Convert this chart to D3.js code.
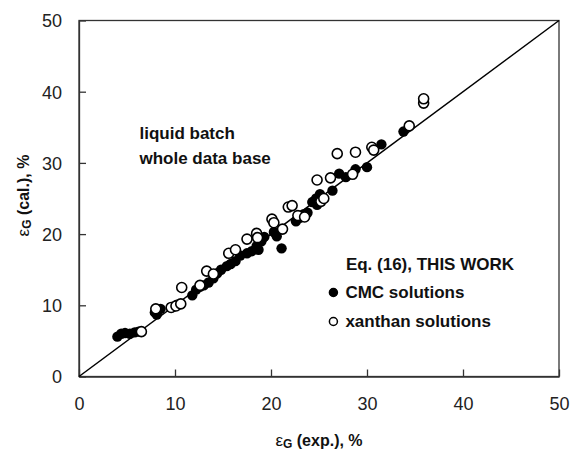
<!DOCTYPE html>
<html>
<head>
<meta charset="utf-8">
<script src="https://cdn.jsdelivr.net/npm/d3@7"></script>
<style>
  body { margin: 0; background: #fff; }
  svg { font-family: Arial, 'Liberation Sans', sans-serif; }
</style>
</head>
<body>
<div id="wrapper"></div>
<script>
// CMC solutions (filled markers): [exp, cal]
const cmcData = [
  [4.0, 5.6], [4.4, 6.0], [4.8, 6.1], [5.3, 6.0], [5.8, 6.2], [6.2, 6.3],
  [7.9, 9.0], [8.2, 9.3], [8.5, 9.5], [8.1, 8.7],
  [9.8, 9.8], [10.2, 10.1],
  [11.8, 11.4], [12.2, 12.2], [12.6, 12.6], [13.0, 12.8], [13.5, 13.2],
  [14.0, 13.8], [14.4, 14.5], [14.8, 15.0], [15.4, 15.5], [15.8, 15.8],
  [16.3, 16.2], [16.8, 17.0], [17.5, 17.3], [18.0, 17.6], [18.5, 18.3],
  [19.0, 19.0], [19.3, 19.6], [18.7, 17.8], [20.3, 20.3], [20.6, 19.7],
  [21.1, 18.0], [22.6, 21.8], [23.0, 22.3], [23.4, 22.8], [23.8, 23.0],
  [24.3, 24.5], [24.7, 25.0], [25.1, 25.6], [24.8, 24.1], [26.4, 26.1],
  [27.1, 28.5], [27.8, 28.0], [28.8, 29.1], [30.0, 29.4], [31.5, 32.6],
  [33.8, 34.4]
]

// xanthan solutions (open markers): [exp, cal]
const xanthanData = [
  [6.5, 6.3], [8.0, 9.5], [9.6, 9.7], [10.1, 9.9], [10.6, 10.2], [10.7, 12.5],
  [12.6, 12.8], [13.3, 14.8], [14.0, 14.4], [15.6, 17.3], [16.3, 17.8],
  [17.5, 19.3], [18.5, 20.1], [18.6, 19.5], [20.1, 22.1], [20.3, 21.6],
  [21.2, 20.7], [21.8, 23.8], [22.2, 24.0], [22.8, 22.6], [23.5, 22.4],
  [24.8, 27.6], [25.2, 24.6], [25.5, 25.0], [26.2, 27.9], [26.9, 31.3],
  [28.5, 28.4], [28.8, 31.5], [30.5, 32.2], [30.7, 31.8], [34.4, 35.2],
  [35.9, 38.4], [35.9, 39.0]
]

const xTicks = [0, 10, 20, 30, 40, 50]
const yTicks = [0, 10, 20, 30, 40, 50]
const legendLabels = ['CMC solutions', 'xanthan solutions']
const noteLines = ['liquid batch', 'whole data base']

const dimensions = {
  width: 570,
  height: 451,
  margin: { top: 20.5, right: 11, bottom: 74.5, left: 79 },
}
dimensions.boundedWidth =
  dimensions.width - dimensions.margin.left - dimensions.margin.right
dimensions.boundedHeight =
  dimensions.height - dimensions.margin.top - dimensions.margin.bottom

const wrapper = d3
  .select('#wrapper')
  .append('svg')
  .attr('width', dimensions.width)
  .attr('height', dimensions.height)

const bounds = wrapper
  .append('g')
  .attr('transform', `translate(${dimensions.margin.left},${dimensions.margin.top})`)

const xScale = d3.scaleLinear().domain([0, 50]).range([0, dimensions.boundedWidth])
const yScale = d3.scaleLinear().domain([0, 50]).range([dimensions.boundedHeight, 0])

// frame
bounds
  .append('rect')
  .attr('width', dimensions.boundedWidth)
  .attr('height', dimensions.boundedHeight)
  .attr('fill', 'none')
  .attr('stroke', '#333')
  .attr('stroke-width', 1.3)

// axes with inward ticks
const xAxis = bounds
  .append('g')
  .attr('transform', `translate(0,${dimensions.boundedHeight})`)
  .call(d3.axisBottom(xScale).tickValues(xTicks).tickSizeInner(-7).tickSizeOuter(0).tickPadding(21))
const yAxis = bounds
  .append('g')
  .call(d3.axisLeft(yScale).tickValues(yTicks).tickSizeInner(-7).tickSizeOuter(0).tickPadding(17))

;[xAxis, yAxis].forEach((ax) => {
  ax.select('.domain').attr('stroke', '#333').attr('stroke-width', 1.3)
  ax.selectAll('.tick line').attr('stroke', '#333').attr('stroke-width', 1.3)
  ax.selectAll('.tick text')
    .attr('font-size', 18)
    .attr('font-family', 'Arial, Liberation Sans, sans-serif')
    .attr('fill', '#222')
})
yAxis.selectAll('.tick text').attr('dy', '0.35em')

// parity line
bounds
  .append('line')
  .attr('x1', xScale(0))
  .attr('y1', yScale(0))
  .attr('x2', xScale(50))
  .attr('y2', yScale(50))
  .attr('stroke', '#000')
  .attr('stroke-width', 1.5)

// points
bounds
  .append('g')
  .selectAll('circle')
  .data(cmcData)
  .enter()
  .append('circle')
  .attr('cx', (d) => xScale(d[0]))
  .attr('cy', (d) => yScale(d[1]))
  .attr('r', 5.2)
  .attr('fill', '#000')

bounds
  .append('g')
  .selectAll('circle')
  .data(xanthanData)
  .enter()
  .append('circle')
  .attr('cx', (d) => xScale(d[0]))
  .attr('cy', (d) => yScale(d[1]))
  .attr('r', 5)
  .attr('fill', '#fff')
  .attr('stroke', '#000')
  .attr('stroke-width', 1.6)

// note text
bounds
  .append('g')
  .selectAll('text')
  .data(noteLines)
  .enter()
  .append('text')
  .attr('x', xScale(6.3))
  .attr('y', (d, i) => yScale(33.4) + i * 25)
  .attr('font-size', 17)
  .attr('font-weight', 'bold')
  .attr('fill', '#111')
  .text((d) => d)

// legend
const legend = bounds.append('g')
legend
  .append('text')
  .attr('x', xScale(27.8))
  .attr('y', yScale(15.0))
  .attr('font-size', 17)
  .attr('font-weight', 'bold')
  .attr('fill', '#111')
  .text('Eq. (16), THIS WORK')

const legendItems = legend
  .selectAll('.item')
  .data(legendLabels)
  .enter()
  .append('g')
  .attr('class', 'item')
  .attr('transform', (d, i) => `translate(${xScale(26.5)},${yScale(11.8) + i * 29})`)

legendItems
  .append('circle')
  .attr('r', 4)
  .attr('fill', (d, i) => (i === 0 ? '#000' : '#fff'))
  .attr('stroke', '#000')
  .attr('stroke-width', 1.5)

legendItems
  .append('text')
  .attr('x', 12)
  .attr('dy', '0.35em')
  .attr('font-size', 17)
  .attr('font-weight', 'bold')
  .attr('fill', '#111')
  .text((d) => d)

// axis titles
const xTitle = wrapper
  .append('text')
  .attr('x', dimensions.margin.left + dimensions.boundedWidth / 2)
  .attr('y', 446)
  .attr('text-anchor', 'middle')
  .attr('font-size', 16)
  .attr('font-weight', 'bold')
  .attr('fill', '#111')
xTitle.append('tspan').attr('font-weight', 'normal').attr('font-size', 17).text('ε')
xTitle.append('tspan').attr('font-size', 12).attr('dy', 2).text('G')
xTitle.append('tspan').attr('dy', -2).text(' (exp.), %')

const yTitle = wrapper
  .append('text')
  .attr('transform', `translate(29,${dimensions.margin.top + dimensions.boundedHeight / 2 - 3}) rotate(-90)`)
  .attr('text-anchor', 'middle')
  .attr('font-size', 16)
  .attr('font-weight', 'bold')
  .attr('fill', '#111')
yTitle.append('tspan').attr('font-weight', 'normal').attr('font-size', 17).text('ε')
yTitle.append('tspan').attr('font-size', 12).attr('dy', 2).text('G')
yTitle.append('tspan').attr('dy', -2).text(' (cal.), %')
</script>
</body>
</html>
